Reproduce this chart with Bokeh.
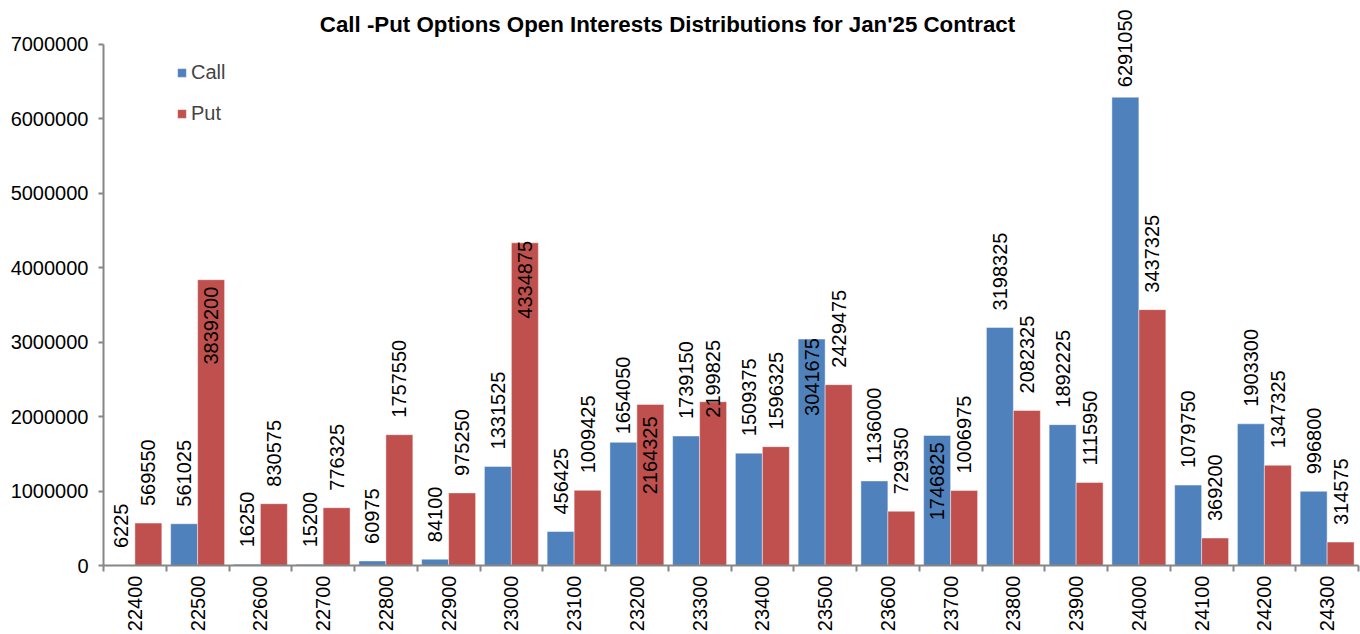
import numpy as np
from bokeh.plotting import figure
from bokeh.models import (ColumnDataSource, Range1d, FixedTicker, NumeralTickFormatter,
                          Label)
from bokeh.core.properties import value
from bokeh.embed import file_html
from bokeh.resources import INLINE

# ---------------- data ----------------
strikes = ["22400", "22500", "22600", "22700", "22800", "22900", "23000", "23100",
           "23200", "23300", "23400", "23500", "23600", "23700", "23800", "23900",
           "24000", "24100", "24200", "24300"]
call_oi = [6225, 561025, 16250, 15200, 60975, 84100, 1331525, 456425,
           1654050, 1739150, 1509375, 3041675, 1136000, 1746825, 3198325, 1892225,
           6291050, 1079750, 1903300, 996800]
put_oi = [569550, 3839200, 830575, 776325, 1757550, 975250, 4334875, 1009425,
          2164325, 2199825, 1596325, 2429475, 729350, 1006975, 2082325, 1115950,
          3437325, 369200, 1347325, 314575]
y_ticks = [0, 1000000, 2000000, 3000000, 4000000, 5000000, 6000000, 7000000]
title_text = "Call -Put Options Open Interests Distributions for Jan'25 Contract"

# ---------------- label placement (style) ----------------
DEFAULT_GAP = 17
special = {
    ("call", "23200"): ("out", 8),
    ("call", "24000"): ("out", 10),
    ("call", "23500"): ("in", -1),
    ("call", "23700"): ("in", 7),
    ("put", "22500"): ("in", 7),
    ("put", "23000"): ("in", -2),
    ("put", "23200"): ("in", 12),
    ("put", "23300"): ("out", -16),
}

FONT = "Liberation Sans"
CALL_COLOR = "#4F81BD"
PUT_COLOR = "#C0504D"
AXIS_COLOR = "#868686"

FIG_W, FIG_H = 1360, 634
LEFT, RIGHT = 103, 2
FRAME_W = FIG_W - LEFT - RIGHT
FRAME_H = 566.0
Y_MAX = 7000000
Y_TOP = Y_MAX * FRAME_H / 522.0
BAR_W = 0.43

n = len(strikes)
idx = np.arange(n)

src = ColumnDataSource(dict(strike=strikes, xc=idx - BAR_W / 2, xp=idx + BAR_W / 2,
                            call=call_oi, put=put_oi))

p = figure(width=FIG_W, height=FIG_H, x_range=Range1d(-0.5, n - 0.5),
           y_range=Range1d(0, Y_TOP), output_backend="svg", toolbar_location=None,
           min_border_left=LEFT, min_border_right=RIGHT, min_border_top=0,
           min_border_bottom=0)
p.outline_line_color = None
p.xgrid.grid_line_color = None
p.ygrid.grid_line_color = None
p.background_fill_color = "white"
p.border_fill_color = "white"

p.vbar(x="xc", top="call", width=BAR_W, source=src, fill_color=CALL_COLOR,
       line_color="white", line_alpha=0.45, line_width=1, legend_label="Call")
p.vbar(x="xp", top="put", width=BAR_W, source=src, fill_color=PUT_COLOR,
       line_color="white", line_alpha=0.45, line_width=1, legend_label="Put")

# data labels
out_d = dict(x=[], y=[], t=[], off=[])
in_d = dict(x=[], y=[], t=[], off=[])
for series, vals, xs in (("call", call_oi, src.data["xc"]), ("put", put_oi, src.data["xp"])):
    for s, v, x in zip(strikes, vals, xs):
        mode, gap = special.get((series, s), ("out", DEFAULT_GAP))
        d = out_d if mode == "out" else in_d
        d["x"].append(float(x))
        d["y"].append(v)
        d["t"].append(str(v))
        d["off"].append(-gap if mode == "out" else gap)

p.text(x="x", y="y", text="t", y_offset="off", source=ColumnDataSource(out_d),
       angle=np.pi / 2, text_align="left", text_baseline="middle",
       text_font=value(FONT), text_font_size="20px", text_color="black")
p.text(x="x", y="y", text="t", y_offset="off", source=ColumnDataSource(in_d),
       angle=np.pi / 2, text_align="right", text_baseline="middle",
       text_font=value(FONT), text_font_size="20px", text_color="black")

# title
p.add_layout(Label(x=(667 - LEFT) / (FRAME_W / n) - 0.5, y=Y_MAX * (566 - 24) / 522.0,
                   text=title_text, text_font=FONT, text_font_style="bold",
                   text_font_size="22.3px", text_align="center", text_baseline="middle",
                   text_color="black"))

# x axis
xa = p.xaxis[0]
xa.ticker = FixedTicker(ticks=list(idx), minor_ticks=list(np.arange(n + 1) - 0.5))
xa.major_label_overrides = {int(i): s for i, s in zip(idx, strikes)}
xa.major_label_orientation = np.pi / 2
xa.major_label_text_font = FONT
xa.major_label_text_font_size = "20px"
xa.major_label_text_color = "black"
xa.major_tick_line_color = None
xa.major_tick_in = 0
xa.major_tick_out = 6
xa.minor_tick_in = 0
xa.minor_tick_out = 6
xa.minor_tick_line_color = AXIS_COLOR
xa.minor_tick_line_width = 2
xa.major_label_standoff = 4
xa.axis_line_color = AXIS_COLOR
xa.axis_line_width = 2

# y axis
ya = p.yaxis[0]
ya.ticker = FixedTicker(ticks=y_ticks, minor_ticks=[])
ya.formatter = NumeralTickFormatter(format="0")
ya.bounds = (0, Y_MAX)
ya.major_label_text_font = FONT
ya.major_label_text_font_size = "20px"
ya.major_label_text_color = "black"
ya.major_tick_in = 0
ya.major_tick_out = 5
ya.major_tick_line_color = AXIS_COLOR
ya.major_tick_line_width = 2
ya.major_label_standoff = 10
ya.axis_line_color = AXIS_COLOR
ya.axis_line_width = 2

# legend
lg = p.legend[0]
lg.location = (73, 440)
lg.padding = 0
lg.margin = 0
lg.border_line_color = None
lg.background_fill_alpha = 0
lg.glyph_width = 11
lg.glyph_height = 11
lg.label_height = 20
lg.spacing = 18
lg.label_standoff = 4
lg.label_text_font = FONT
lg.label_text_font_size = "20px"

open("out.html", "w").write(file_html(p, INLINE))
